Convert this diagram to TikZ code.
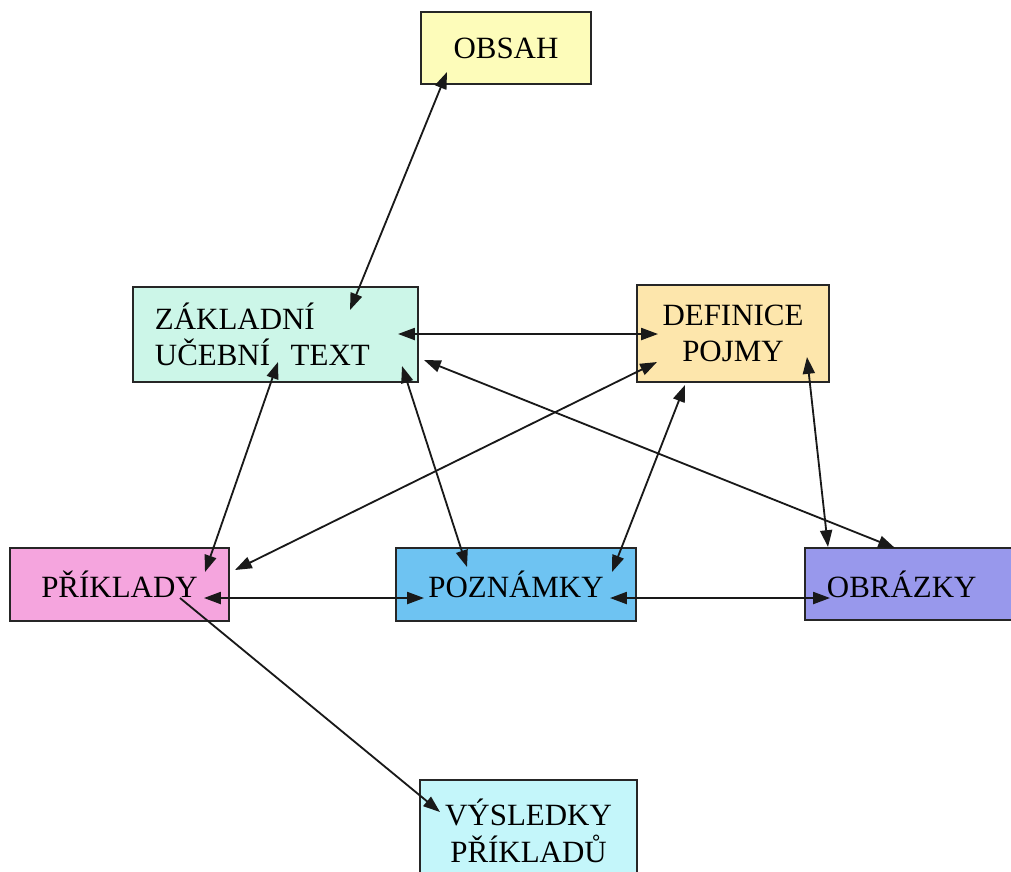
\documentclass[tikz,border=0pt]{standalone}
\usepackage{fontspec}
\setmainfont{Liberation Serif}
\usetikzlibrary{arrows.meta}
\definecolor{boxYellow}{RGB}{253, 252, 186}
\definecolor{boxMint}{RGB}{204, 246, 232}
\definecolor{boxPeach}{RGB}{253, 230, 172}
\definecolor{boxPink}{RGB}{245, 165, 222}
\definecolor{boxBlue}{RGB}{110, 195, 242}
\definecolor{boxPurple}{RGB}{152, 152, 236}
\definecolor{boxCyan}{RGB}{196, 246, 250}

\begin{document}
\begin{tikzpicture}[x=0.025cm, y=-0.025cm,
    box/.style={draw=black!85, line width=1.3pt, rectangle, inner sep=0pt,
      align=center, font=\fontsize{22}{26}\selectfont},
    leftbox/.style={box, align=left, inner xsep=0.55cm},
    link/.style={<->, >={Triangle[length=4.2mm,width=3mm]}, line width=1.3pt, black!90}]
      \useasboundingbox (0,0) rectangle (1011,871);
      \clip (0,0) rectangle (1011,871);

      % boxes
      \node[box, fill=boxYellow, minimum width=4.25cm, minimum height=1.8cm] (obsah) at (506,48) {OBSAH};
      \node[leftbox, fill=boxMint, text width=6.025cm, minimum height=2.375cm] (zaklad) at (275.5,334.5) {ZÁKLADNÍ\\UČEBNÍ\ \ TEXT};
      \node[box, fill=boxPeach, minimum width=4.8cm, minimum height=2.425cm] (definice) at (733,333.5) {DEFINICE\\POJMY};
      \node[box, fill=boxPink, minimum width=5.475cm, minimum height=1.825cm] (priklady) at (119.5,584.5) {PŘÍKLADY};
      \node[box, fill=boxBlue, minimum width=6cm, minimum height=1.825cm] (poznamky) at (516,584.5) {POZNÁMKY};
      \node[leftbox, fill=boxPurple, text width=4.5cm, minimum height=1.8cm] (obrazky) at (917,584) {OBRÁZKY};
      \node[box, fill=boxCyan, minimum width=5.425cm, minimum height=2.55cm] (vysledky) at (528.5,831) {VÝSLEDKY\\PŘÍKLADŮ};

      % arrow ends
      \coordinate (obsah-s) at (447,72);
      \coordinate (zaklad-n) at (350,310);
      \coordinate (zaklad-e) at (398,334);
      \coordinate (zaklad-se) at (424,360);
      \coordinate (zaklad-s) at (402,366);
      \coordinate (zaklad-sw) at (278,362);
      \coordinate (definice-w) at (658,334);
      \coordinate (definice-sw) at (657,362);
      \coordinate (definice-s) at (685,385);
      \coordinate (definice-se) at (807,357);
      \coordinate (priklady-n) at (205,572);
      \coordinate (priklady-ne) at (235,570);
      \coordinate (priklady-e) at (204,598);
      \coordinate (priklady-se) at (180,598);
      \coordinate (poznamky-nw) at (467,567);
      \coordinate (poznamky-ne) at (612,572);
      \coordinate (poznamky-w) at (424,598);
      \coordinate (poznamky-e) at (610,598);
      \coordinate (obrazky-nw) at (828,547);
      \coordinate (obrazky-n) at (895,548);
      \coordinate (obrazky-w) at (830,598);
      \coordinate (vysledky-nw) at (440,812);

      % connectors
      \draw[link] (obsah-s) -- (zaklad-n);
      \draw[link] (zaklad-e) -- (definice-w);
      \draw[link] (zaklad-se) -- (obrazky-n);
      \draw[link] (zaklad-s) -- (poznamky-nw);
      \draw[link] (zaklad-sw) -- (priklady-n);
      \draw[link] (definice-sw) -- (priklady-ne);
      \draw[link] (definice-s) -- (poznamky-ne);
      \draw[link] (definice-se) -- (obrazky-nw);
      \draw[link] (priklady-e) -- (poznamky-w);
      \draw[link] (poznamky-e) -- (obrazky-w);
      \draw[link, <-] (vysledky-nw) -- (priklady-se);
\end{tikzpicture}
\end{document}
